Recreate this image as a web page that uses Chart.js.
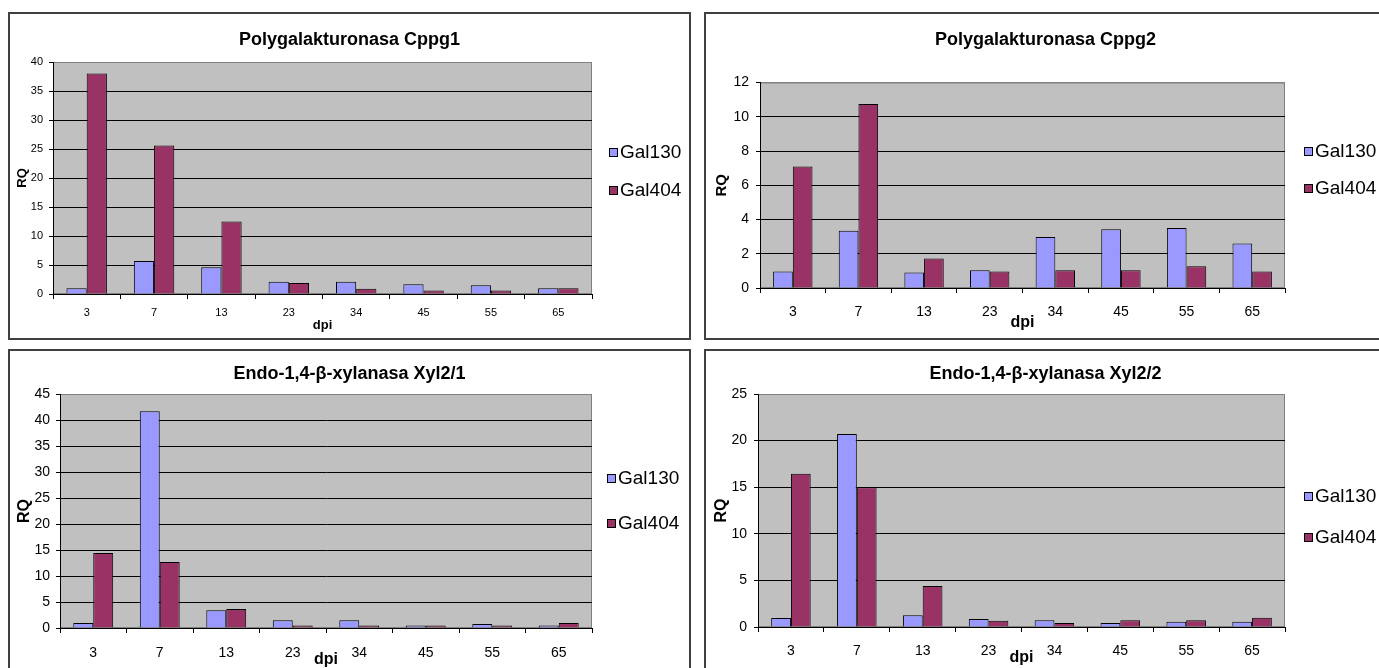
<!DOCTYPE html>
<html>
<head>
<meta charset="utf-8">
<script src="https://cdn.jsdelivr.net/npm/chart.js@4.4.1/dist/chart.umd.min.js"></script>
<style>
  html, body { margin: 0; padding: 0; background: #fff; width: 1379px; height: 668px; overflow: hidden; }
  .panel { position: absolute; box-sizing: border-box; border: 2px solid #404040; }
  canvas { position: absolute; }
</style>
</head>
<body>
<div class="panel" style="left:8px;top:12px;width:683px;height:328px"></div>
<div class="panel" style="left:704px;top:12px;width:683px;height:328px"></div>
<div class="panel" style="left:8px;top:349px;width:683px;height:328px"></div>
<div class="panel" style="left:704px;top:349px;width:683px;height:328px"></div>
<canvas id="c1" width="683" height="328" style="left:8px;top:12px"></canvas>
<canvas id="c2" width="683" height="328" style="left:704px;top:12px"></canvas>
<canvas id="c3" width="683" height="328" style="left:8px;top:349px"></canvas>
<canvas id="c4" width="683" height="328" style="left:704px;top:349px"></canvas>
<script>
// Days post inoculation (category axis)
const dpi = ['3', '7', '13', '23', '34', '45', '55', '65'];
const seriesNames = ['Gal130', 'Gal404'];

// Relative quantity (RQ) per gene
const cppg1Gal130 = [1.0, 5.7, 4.6, 2.1, 2.1, 1.7, 1.5, 1.0];
const cppg1Gal404 = [38.0, 25.6, 12.5, 1.9, 0.9, 0.6, 0.6, 1.0];

const cppg2Gal130 = [0.97, 3.35, 0.9, 1.03, 2.98, 3.43, 3.5, 2.6];
const cppg2Gal404 = [7.1, 10.75, 1.72, 0.97, 1.03, 1.03, 1.27, 0.97];

const xyl21Gal130 = [0.96, 41.7, 3.4, 1.47, 1.47, 0.5, 0.77, 0.5];
const xyl21Gal404 = [14.4, 12.7, 3.65, 0.5, 0.5, 0.5, 0.5, 0.96];

const xyl22Gal130 = [0.97, 20.7, 1.25, 0.86, 0.72, 0.43, 0.57, 0.57];
const xyl22Gal404 = [16.45, 15.0, 4.4, 0.68, 0.43, 0.72, 0.72, 1.0];

const chartTitles = [
  'Polygalakturonasa Cppg1',
  'Polygalakturonasa Cppg2',
  'Endo-1,4-\u03B2-xylanasa Xyl2/1',
  'Endo-1,4-\u03B2-xylanasa Xyl2/2'
];
const yMaxima = [40, 12, 45, 25];
const ySteps = [5, 2, 5, 5];
const yAxisLabel = 'RQ';
const xAxisLabel = 'dpi';

const seriesColors = ['#9999FF', '#993366'];
const FONT = 'Arial, "Liberation Sans", sans-serif';

Chart.defaults.font.family = FONT;
Chart.defaults.color = '#000';

// Grey plot area with a thin grey frame (Excel-like)
const plotBackground = {
  id: 'plotBackground',
  beforeDraw(chart) {
    const { ctx, chartArea: a } = chart;
    ctx.save();
    ctx.fillStyle = '#C0C0C0';
    ctx.fillRect(a.left, a.top, a.right - a.left, a.bottom - a.top);
    ctx.strokeStyle = '#808080';
    ctx.lineWidth = 1;
    ctx.strokeRect(a.left + 0.5, a.top + 0.5, a.right - a.left - 1, a.bottom - a.top - 1);
    ctx.restore();
  }
};

// Series key drawn at the right of the plot
const seriesKey = {
  id: 'seriesKey',
  afterDraw(chart, args, opts) {
    const { ctx } = chart;
    ctx.save();
    ctx.font = opts.size + 'px ' + FONT;
    ctx.textBaseline = 'middle';
    ctx.textAlign = 'left';
    chart.data.datasets.forEach((ds, i) => {
      const y = Math.round(opts.ys[i]);
      const top = y - Math.floor(opts.box / 2);
      ctx.fillStyle = ds.backgroundColor;
      ctx.fillRect(opts.x, top, opts.box, opts.box);
      ctx.strokeStyle = '#000';
      ctx.lineWidth = 1;
      ctx.strokeRect(opts.x + 0.5, top + 0.5, opts.box - 1, opts.box - 1);
      ctx.fillStyle = '#000';
      ctx.fillText(ds.label, opts.x + opts.box + 2, y + 1);
    });
    ctx.restore();
  }
};

const layouts = [
  { yW: 45, xH: 46, rightW: 99, tPt: 17.2, tPb: 11.2, tick: 11, xTl: 5, xPad: 7.4, yTl: 4, yPad: 6,
    rq: 13, rqPad: 6.7, dpiSize: 13, dpiPb: 7.2, key: { x: 601, ys: [140, 178], size: 19, box: 9 } },
  { yW: 56, xH: 52, rightW: 102, tPt: 17.2, tPb: 31.7, tick: 14, xTl: 5, xPad: 10.6, yTl: 4, yPad: 7,
    rq: 15, rqPad: 8.5, dpiSize: 16, dpiPb: 7.9, key: { x: 600, ys: [139, 176], size: 19, box: 9 } },
  { yW: 52, xH: 49, rightW: 99, tPt: 14.2, tPb: 9.2, tick: 14, xTl: 5, xPad: 11.3, yTl: 4, yPad: 6,
    rq: 16, rqPad: 7.4, dpiSize: 16, dpiPb: 7.4, key: { x: 599, ys: [129, 174], size: 19, box: 9 } },
  { yW: 54, xH: 50, rightW: 102, tPt: 14.2, tPb: 9.2, tick: 14, xTl: 5, xPad: 10.6, yTl: 4, yPad: 7,
    rq: 16, rqPad: 8.4, dpiSize: 16, dpiPb: 9.4, key: { x: 600, ys: [147, 188], size: 19, box: 9 } }
];

const seriesPerChart = [
  [cppg1Gal130, cppg1Gal404],
  [cppg2Gal130, cppg2Gal404],
  [xyl21Gal130, xyl21Gal404],
  [xyl22Gal130, xyl22Gal404]
];

seriesPerChart.forEach((pair, i) => {
  const L = layouts[i];
  const yMax = yMaxima[i];
  new Chart(document.getElementById('c' + (i + 1)), {
    type: 'bar',
    data: {
      labels: dpi,
      datasets: pair.map((values, s) => ({
        label: seriesNames[s],
        data: values,
        backgroundColor: seriesColors[s],
        borderColor: '#000',
        borderWidth: 1,
        categoryPercentage: 0.6,
        barPercentage: 1.0
      }))
    },
    options: {
      responsive: false,
      animation: false,
      devicePixelRatio: 1,
      layout: { padding: 0 },
      plugins: {
        legend: { display: false },
        tooltip: { enabled: false },
        title: {
          display: true,
          text: chartTitles[i],
          color: '#000',
          font: { size: 18, weight: 'bold', family: FONT },
          padding: { top: L.tPt, bottom: L.tPb }
        },
        seriesKey: L.key
      },
      scales: {
        x: {
          afterFit(scale) { scale.height = L.xH; },
          grid: { display: true, drawOnChartArea: false, drawTicks: true, tickLength: L.xTl, color: '#000', tickColor: '#000', offset: true },
          border: { color: '#000', width: 1 },
          ticks: { font: { size: L.tick }, padding: L.xPad, color: '#000', maxRotation: 0, autoSkip: false },
          title: { display: true, text: xAxisLabel, color: '#000', font: { size: L.dpiSize, weight: 'bold' }, padding: { top: 0, bottom: L.dpiPb } }
        },
        y: {
          min: 0,
          max: yMax,
          afterFit(scale) { scale.width = L.yW; },
          grid: {
            drawTicks: true,
            tickLength: L.yTl,
            color: ctx => (ctx.tick && ctx.tick.value === yMax ? '#808080' : '#000'),
            tickColor: '#000',
            lineWidth: 1
          },
          border: { color: '#000', width: 1 },
          ticks: { stepSize: ySteps[i], font: { size: L.tick }, padding: L.yPad, color: '#000' },
          title: { display: true, text: yAxisLabel, color: '#000', font: { size: L.rq, weight: 'bold' }, padding: { top: L.rqPad, bottom: 0 } }
        },
        // empty right-hand band reserved for the series key
        keyBand: {
          type: 'linear',
          position: 'right',
          display: true,
          afterFit(scale) { scale.width = L.rightW; },
          grid: { display: false },
          border: { display: false },
          ticks: { display: false }
        }
      }
    },
    plugins: [plotBackground, seriesKey]
  });
});
</script>
</body>
</html>
